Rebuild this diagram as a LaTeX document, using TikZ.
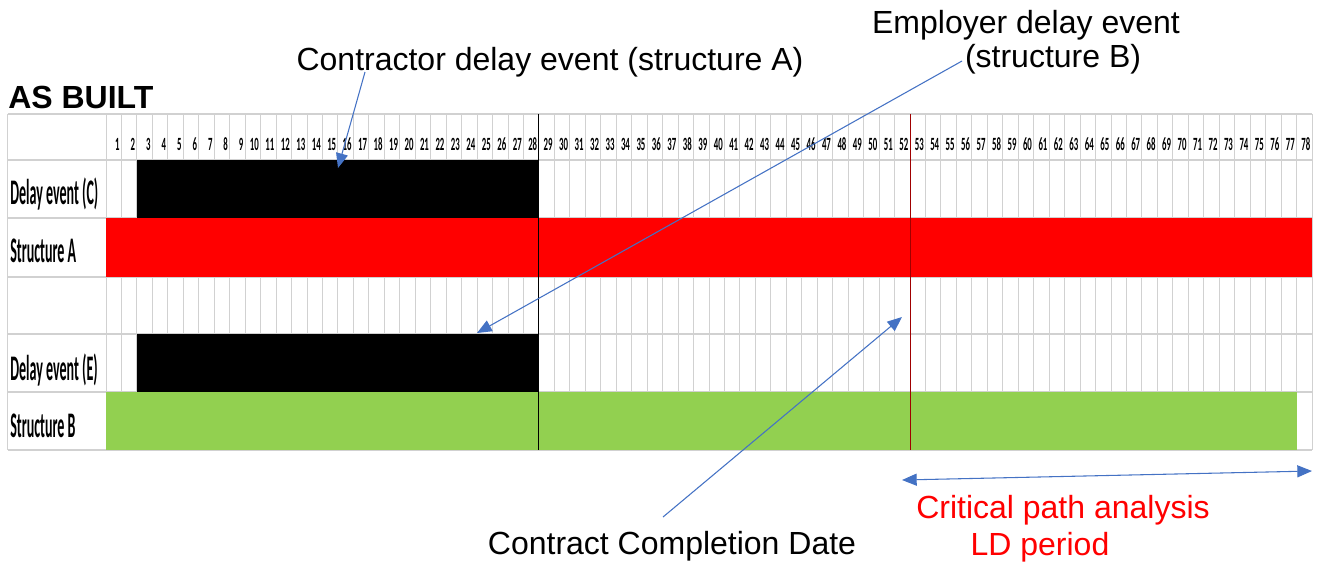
\documentclass[tikz,border=0pt]{standalone}
\usepackage{fontspec}
\setmainfont{Liberation Sans}
\newfontfamily\gridfont{Carlito}
\usetikzlibrary{arrows.meta}
\definecolor{arrowblue}{HTML}{4472C4}
\definecolor{barGreen}{HTML}{92D050}
\definecolor{markRed}{HTML}{A00000}
\newcommand{\colW}{15.4615}
\newcommand{\gridX}{106}
\newcommand{\squeeze}[2]{\scalebox{#1}[1]{#2}}

\begin{document}
\begin{tikzpicture}[x=0.75pt,y=-0.75pt]
  \tikzset{
    gridline/.style={draw=black!18, line width=0.7pt},
    rowline/.style={draw=black!18, line width=1.4pt},
    pointer/.style={draw=arrowblue, line width=0.8pt, -{Triangle[length=11pt,width=9pt]}},
    title/.style={font=\fontsize{24}{28}\selectfont, inner sep=0pt, anchor=base},
    rowlabel/.style={font=\gridfont\bfseries\fontsize{27}{30}\selectfont, inner sep=0pt, anchor=base west},
    daynum/.style={font=\gridfont\bfseries\fontsize{14}{16}\selectfont, inner sep=0pt, anchor=base east},
  }
  \useasboundingbox (0,0) rectangle (1323,562);

  % grid
  \foreach \i in {0,...,78}
    \draw[gridline] (\gridX+\i*\colW,114) -- (\gridX+\i*\colW,450);
  \draw[gridline] (7.5,114) -- (7.5,450);
  \foreach \y in {114,160,218,277,334,392,450}
    \draw[rowline] (7.5,\y) -- (\gridX+78*\colW,\y);
  \foreach \i in {1,...,78}
    \node[daynum] (day-\i) at (\gridX+\i*\colW-1.5,150) {\squeeze{0.47}{\i}};

  % bars
  \fill[black] (\gridX+2*\colW,160) rectangle (\gridX+28*\colW,218);
  \fill[red] (\gridX,218) rectangle (\gridX+78*\colW,277);
  \fill[black] (\gridX+2*\colW,334) rectangle (\gridX+28*\colW,392);
  \fill[barGreen] (\gridX,392) rectangle (\gridX+77*\colW,450);
  \draw[black, line width=0.8pt] (\gridX+28*\colW,114) -- (\gridX+28*\colW,450);
  \draw[markRed, line width=0.6pt] (\gridX+52*\colW,114) -- (\gridX+52*\colW,450);

  \node[rowlabel] (lbl-C) at (10,204) {\squeeze{0.39}{Delay event (C)}};
  \node[rowlabel] (lbl-A) at (10,262) {\squeeze{0.39}{Structure A}};
  \node[rowlabel] (lbl-E) at (10,380) {\squeeze{0.39}{Delay event (E)}};
  \node[rowlabel] (lbl-B) at (10,437) {\squeeze{0.39}{Structure B}};

  % texts
  \node[title, anchor=base west, font=\fontsize{24}{28}\selectfont\bfseries] (asbuilt) at (8,108) {AS BUILT};
  \node[title] (ttl-A) at (550,70.5) {Contractor delay event (structure A)};
  \node[title] (ttl-B1) at (1026,33) {Employer delay event};
  \node[title] (ttl-B2) at (1053,67) {(structure B)};
  \node[title] (ttl-ccd) at (672,554) {Contract Completion Date};
  \node[title, text=red] (cpa1) at (1063,518) {Critical path analysis};
  \node[title, text=red] (cpa2) at (1040,555) {LD period};

  % pointers
  \coordinate (ca-from) at (365,72);
  \coordinate (ca-to) at (338,168);
  \coordinate (eb-from) at (962,61);
  \coordinate (eb-to) at (477,333);
  \coordinate (cc-from) at (663,517);
  \coordinate (cc-to) at (902,317);
  \coordinate (ld-left) at (902,480);
  \coordinate (ld-right) at (1312,471);
  \draw[pointer] (ca-from) -- (ca-to);
  \draw[pointer] (eb-from) -- (eb-to);
  \draw[pointer] (cc-from) -- (cc-to);
  \draw[pointer, {Triangle[length=11pt,width=9pt]}-{Triangle[length=11pt,width=9pt]}] (ld-left) -- (ld-right);
\end{tikzpicture}
\end{document}
